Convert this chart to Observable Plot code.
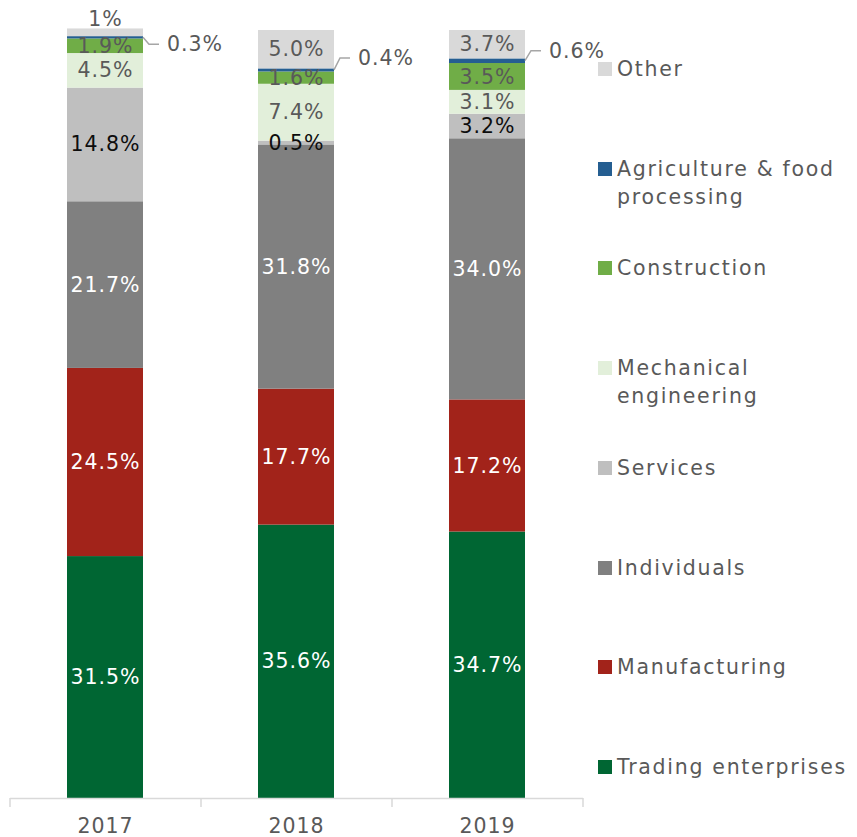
<!DOCTYPE html>
<html><head><meta charset="utf-8">
<script src="https://cdn.jsdelivr.net/npm/d3@7"></script>
<script src="https://cdn.jsdelivr.net/npm/@observablehq/plot@0.6"></script>
<style>
body{margin:0;background:#fff;font-family:"DejaVu Sans",sans-serif;}
#wrap{position:relative;width:857px;height:837px;overflow:hidden;}
#wrap svg text{letter-spacing:1px;}
.item{position:absolute;left:598px;display:flex;align-items:flex-start;color:#595959;font-size:20.5px;line-height:28px;width:250px;letter-spacing:1.7px;}
.sw{width:14px;height:14px;margin-top:7px;margin-right:5px;flex:none;}
</style></head><body><div id="wrap"></div>
<script>
const years = ["2017", "2018", "2019"];
const sectors = ["Trading enterprises", "Manufacturing", "Individuals", "Services", "Mechanical engineering", "Construction", "Agriculture & food processing", "Other"];
const colors = ["#006633", "#A2231A", "#808080", "#BFBFBF", "#E2EFDA", "#70AD47", "#255E91", "#D9D9D9"];
const trading = [31.5, 35.6, 34.7];
const manufacturing = [24.5, 17.7, 17.2];
const individuals = [21.7, 31.8, 34.0];
const services = [14.8, 0.5, 3.2];
const mechanical = [4.5, 7.4, 3.1];
const construction = [1.9, 1.6, 3.5];
const agriculture = [0.3, 0.4, 0.6];
const other = [1, 5.0, 3.7];
const otherLabels = ["1%", "5.0%", "3.7%"];

const series = [trading, manufacturing, individuals, services, mechanical, construction, agriculture, other];
const rows = [];
years.forEach((yr, i) => {
  let acc = 0;
  series.forEach((s, j) => {
    const v = s[i];
    rows.push({year: yr, sector: sectors[j], j, value: v, y1: acc, y2: acc + v, mid: acc + v / 2,
      label: j === 7 ? otherLabels[i] : v.toFixed(1) + "%"});
    acc += v;
  });
});

const W = 857, H = 837, mL = 10, mR = 274, mT = 30, mB = 39;
const step = (W - mL - mR) / years.length;
const FS = 20.5;
const grey = "#595959";

const plot = Plot.plot({
  width: W, height: H,
  marginLeft: mL, marginRight: mR, marginTop: mT, marginBottom: mB,
  style: {fontFamily: '"DejaVu Sans", sans-serif', fontSize: FS + "px", color: grey, background: "white"},
  x: {domain: years, paddingInner: 0.6, paddingOuter: 0.3, tickSize: 0, tickPadding: 20, label: null},
  y: {domain: [0, 100], axis: null},
  color: {domain: sectors, range: colors},
  marks: [
    Plot.barY(rows, {x: "year", y1: "y1", y2: "y2", fill: "sector"}),
    Plot.ruleY([0], {stroke: "#d9d9d9", strokeWidth: 1.5}),
    Plot.ruleX(years, {x: d => d, y1: 0, y2: 0, dx: -step / 2, insetBottom: -9, stroke: "#d9d9d9", strokeWidth: 1.5}),
    Plot.ruleX(years.slice(-1), {x: d => d, y1: 0, y2: 0, dx: step / 2, insetBottom: -9, stroke: "#d9d9d9", strokeWidth: 1.5}),
    Plot.text(rows.filter(d => d.j <= 2), {x: "year", y: "mid", text: "label", fill: "white", fontSize: FS}),
    Plot.text(rows.filter(d => d.j === 3), {x: "year", y: "mid", text: "label", fill: "#0d0d0d", fontSize: FS}),
    Plot.text(rows.filter(d => d.j === 4 || d.j === 5 || (d.j === 7 && d.value >= 2)), {x: "year", y: "mid", text: "label", fill: grey, fontSize: FS}),
    Plot.text(rows.filter(d => d.j === 7 && d.value < 2), {x: "year", y: "y2", dy: -10, text: "label", fill: grey, fontSize: FS})
  ]
});

const wrap = document.getElementById("wrap");
wrap.appendChild(plot);

// Agriculture labels with leader lines, positioned through Plot's scales
const xs = plot.scale("x"), ys = plot.scale("y");
const bw = xs.bandwidth;
const leaderDy = [7, -12, -10];
const svg = d3.select(plot);
const g = svg.append("g");
rows.filter(d => d.j === 6).forEach((d, i) => {
  const x0 = xs.apply(d.year) + bw;
  const y0 = ys.apply(d.mid);
  const y1 = y0 + leaderDy[i];
  const x1 = x0 + 6, x2 = x1 + 10;
  g.append("path").attr("d", `M${x0},${y0}L${x1},${y1}L${x2},${y1}`)
    .attr("fill", "none").attr("stroke", "#a6a6a6").attr("stroke-width", 1.5);
  g.append("text").attr("x", x2 + 8).attr("y", y1).attr("dy", "0.35em")
    .attr("text-anchor", "start")
    .attr("fill", grey).attr("font-size", FS).text(d.label);
});

// Legend (HTML), top to bottom in reverse stack order
const legendOrder = sectors.map((s, j) => j).reverse();
legendOrder.forEach((j, k) => {
  const item = document.createElement("div");
  item.className = "item";
  item.style.top = (69 + k * 99.7 - 14) + "px";
  const sw = document.createElement("div");
  sw.className = "sw";
  sw.style.background = colors[j];
  const t = document.createElement("div");
  t.textContent = sectors[j];
  item.appendChild(sw); item.appendChild(t);
  wrap.appendChild(item);
});
</script></body></html>
